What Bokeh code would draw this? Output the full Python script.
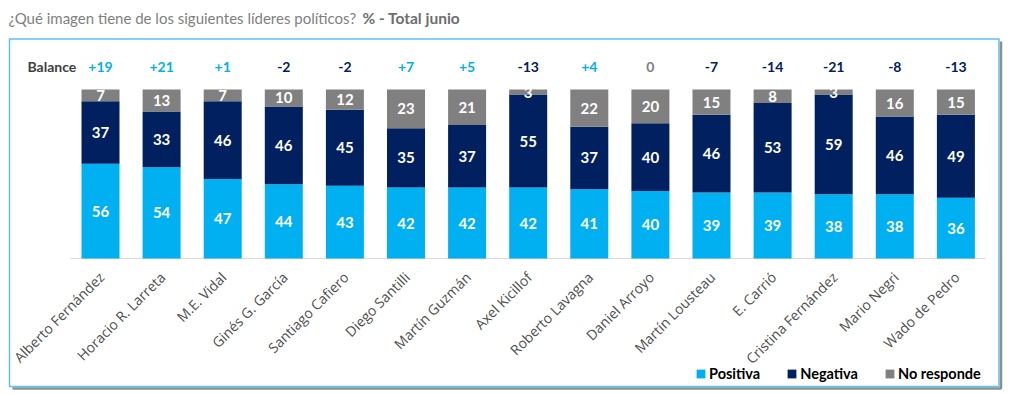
import math
from bokeh.plotting import figure
from bokeh.models import ColumnDataSource, Range1d, Legend, LegendItem
from bokeh.core.properties import value
from bokeh.embed import file_html
from bokeh.resources import INLINE

# ---------------- data ----------------
names = ["Alberto Fernández", "Horacio R. Larreta", "M.E. Vidal", "Ginés G. García",
         "Santiago Cafiero", "Diego Santilli", "Martín Guzmán", "Axel Kicillof",
         "Roberto Lavagna", "Daniel Arroyo", "Martín Lousteau", "E. Carrió",
         "Cristina Fernández", "Mario Negri", "Wado de Pedro"]
positiva = [56, 54, 47, 44, 43, 42, 42, 42, 41, 40, 39, 39, 38, 38, 36]
negativa = [37, 33, 46, 46, 45, 35, 37, 55, 37, 40, 46, 53, 59, 46, 49]
no_responde = [7, 13, 7, 10, 12, 23, 21, 3, 22, 20, 15, 8, 3, 16, 15]
balance = [19, 21, 1, -2, -2, 7, 5, -13, 4, 0, -7, -14, -21, -8, -13]
series = ["Positiva", "Negativa", "No responde"]

C_POS = "#00b0f0"
C_NEG = "#002060"
C_NR = "#808080"

# ---------------- geometry (pixels) ----------------
W, H = 1012, 394
OFF = 0          # page offset of the canvas
PX_X = 61.1      # px per category
X0 = 100.0       # page px of first bar centre
PX_Y = 1.69      # px per percent
ZERO = 258.0     # page px of zero line

def dx(page_x):
    return (page_x - OFF - (X0 - OFF)) / PX_X

def dy(page_y):
    return (ZERO - page_y) / PX_Y

p = figure(width=W, height=H, output_backend="svg", toolbar_location=None,
           x_range=Range1d(dx(OFF), dx(OFF + W)),
           y_range=Range1d(dy(OFF + H), dy(OFF)),
           x_axis_location=None, y_axis_location=None, min_border=0)
p.grid.visible = False
p.outline_line_color = None
p.background_fill_color = "white"
p.border_fill_color = "white"

# frame box with shadow
p.line([dx(1000.5), dx(1000.5), dx(12)], [dy(41), dy(388), dy(388)],
       line_color="#7a7a7a", line_width=2.5, line_alpha=0.85)
p.quad(left=[dx(9)], right=[dx(998.5)], top=[dy(38.5)], bottom=[dy(386)],
       fill_color=None, line_color="#5cc3ea", line_width=1.5)

# title
p.text(x=[dx(8)], y=[dy(17)], text=["¿Qué imagen tiene de los siguientes líderes políticos?"],
       text_font=value("Lato"), text_font_size="15px", text_color="#7f7f7f",
       text_baseline="middle", text_align="left")
p.text(x=[dx(362)], y=[dy(17)], text=["% - Total junio"],
       text_font=value("Lato"), text_font_size="15.5px", text_font_style="bold",
       text_color="#6e6e6e", text_baseline="middle", text_align="left")

# axis line
p.segment(x0=[dx(70)], x1=[dx(985)], y0=[0], y1=[0], line_color="#d9d9d9", line_width=1)

idx = list(range(len(names)))
src = ColumnDataSource(dict(
    x=idx, name=names,
    positiva=positiva, negativa=negativa, no_responde=no_responde,
    y_pos=[a / 2 for a in positiva],
    y_neg=[a + b / 2 for a, b in zip(positiva, negativa)],
    y_nr=[a + b + c / 2 for a, b, c in zip(positiva, negativa, no_responde)],
    t_pos=[str(v) for v in positiva],
    t_neg=[str(v) for v in negativa],
    t_nr=[str(v) for v in no_responde],
    bal=[("+%d" % v) if v > 0 else str(v) for v in balance],
    bal_color=[C_POS if v > 0 else (C_NEG if v < 0 else C_NR) for v in balance],
))

rs = p.vbar_stack(["positiva", "negativa", "no_responde"], x="x", width=0.622,
                  color=[C_POS, C_NEG, C_NR], line_color=None, source=src)

num_style = dict(text_font=value("Lato"), text_font_size="15px", text_font_style="bold",
                 text_color="white", text_align="center", text_baseline="middle", source=src)
p.text(x="x", y="y_pos", text="t_pos", **num_style)
p.text(x="x", y="y_neg", text="t_neg", **num_style)
p.text(x="x", y="y_nr", text="t_nr", **num_style)

# balance row
p.text(x=[dx(27)], y=[dy(66)], text=["Balance"], text_font=value("Lato"),
       text_font_size="14px", text_font_style="bold", text_color="#404040",
       text_align="left", text_baseline="middle")
p.text(x="x", y=dy(66), text="bal", text_color="bal_color", text_font=value("Lato"),
       text_font_size="14px", text_font_style="bold", text_align="center",
       text_baseline="middle", source=src)

# category labels
p.text(x="x", y=dy(274), text="name", angle=math.pi / 4, x_offset=1,
       text_font=value("Open Sans"), text_font_size="14px", text_color="#505050",
       text_align="right", text_baseline="middle", source=src)

legend = Legend(items=[LegendItem(label=s, renderers=[r]) for s, r in zip(series, rs)],
                orientation="horizontal", location=(695, H - 382),
                glyph_width=11, glyph_height=11, label_standoff=3, spacing=26,
                padding=0, margin=0, border_line_color=None, background_fill_alpha=0,
                label_text_font="Lato", label_text_font_size="14.5px",
                label_text_font_style="bold", label_text_color="black", label_height=16)
p.add_layout(legend)

open("out.html", "w").write(file_html(p, INLINE))
